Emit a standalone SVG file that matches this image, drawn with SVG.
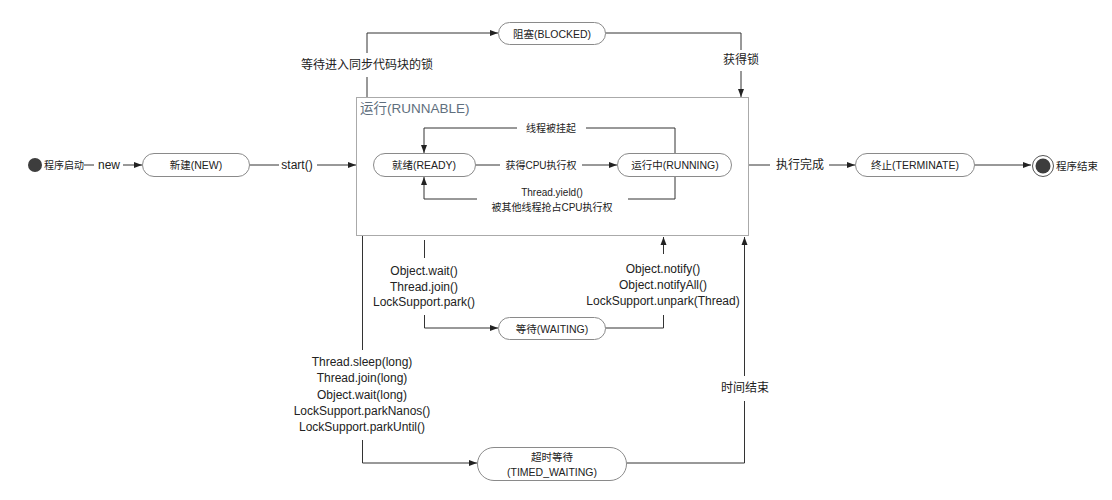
<svg xmlns="http://www.w3.org/2000/svg" width="1112" height="500" viewBox="0 0 1112 500">
<style>
text{font-family:"Liberation Sans","Noto Sans CJK SC",sans-serif;fill:#222;text-anchor:middle;dominant-baseline:central}
.pill{fill:#fff;stroke:#8a8a8a;stroke-width:1}
.nt{font-size:10.5px}
.lb{font-size:12px}
.sm{font-size:10px}
.ln{fill:none;stroke:#333;stroke-width:1}
.ar{marker-end:url(#ah)}
</style>
<defs>
<marker id="ah" markerUnits="userSpaceOnUse" markerWidth="8" markerHeight="8" viewBox="0 0 8 8" refX="8" refY="4" orient="auto">
<path d="M0,1 L8,4 L0,7 Z" fill="#222"/>
</marker>
</defs>
<rect width="1112" height="500" fill="#fff"/>

<g id="runnable">
<rect x="356.5" y="97.5" width="392" height="138" fill="#fff" stroke="#aaa" stroke-width="1"/>
<text x="360" y="108" style="font-size:13.5px;fill:#5f6f7e;text-anchor:start">运行(RUNNABLE)</text>
</g>

<g id="connectors">
<!-- start -> new -->
<line class="ln" x1="84" y1="165" x2="94" y2="165"/>
<text class="lb" x="109" y="165">new</text>
<line class="ln ar" x1="123" y1="165" x2="142" y2="165"/>
<!-- new -> runnable -->
<line class="ln" x1="250" y1="165" x2="279" y2="165"/>
<text class="lb" x="297" y="165">start()</text>
<line class="ln ar" x1="317" y1="165" x2="356" y2="165"/>
<!-- ready -> running -->
<line class="ln" x1="476" y1="165" x2="500" y2="165"/>
<text class="sm" x="541" y="165">获得CPU执行权</text>
<line class="ln ar" x1="582" y1="165" x2="617" y2="165"/>
<!-- running -> ready (suspended) -->
<polyline class="ln" points="675,153 675,128 586,128"/>
<text class="sm" x="551" y="128">线程被挂起</text>
<polyline class="ln ar" points="517,128 424,128 424,153"/>
<!-- running -> ready (yield) -->
<polyline class="ln" points="675,177 675,199 628,199"/>
<text class="sm" x="552" y="192">Thread.yield()</text>
<text class="sm" x="552" y="207">被其他线程抢占CPU执行权</text>
<polyline class="ln ar" points="477,199 424,199 424,177"/>
<!-- runnable -> blocked -->
<polyline class="ln" points="367,97 367,77"/>
<text class="lb" x="367" y="65">等待进入同步代码块的锁</text>
<polyline class="ln ar" points="367,53 367,33 498,33"/>
<!-- blocked -> runnable -->
<polyline class="ln" points="605,33 741,33 741,50"/>
<text class="lb" x="741" y="60">获得锁</text>
<line class="ln ar" x1="741" y1="71" x2="741" y2="97"/>
<!-- runnable -> terminate -->
<line class="ln" x1="749" y1="165" x2="770" y2="165"/>
<text class="lb" x="800" y="165">执行完成</text>
<line class="ln ar" x1="829" y1="165" x2="855" y2="165"/>
<!-- terminate -> end -->
<line class="ln ar" x1="975" y1="165" x2="1031" y2="165"/>
<!-- runnable -> waiting -->
<line class="ln" x1="424.5" y1="240" x2="424.5" y2="258"/>
<text class="lb" x="424" y="271">Object.wait()</text>
<text class="lb" x="424" y="287">Thread.join()</text>
<text class="lb" x="424" y="302">LockSupport.park()</text>
<polyline class="ln ar" points="424.5,315 424.5,328 498,328"/>
<!-- waiting -> runnable -->
<polyline class="ln" points="605,328 663.5,328 663.5,315"/>
<text class="lb" x="663" y="269">Object.notify()</text>
<text class="lb" x="663" y="285">Object.notifyAll()</text>
<text class="lb" x="663" y="301">LockSupport.unpark(Thread)</text>
<line class="ln ar" x1="663.5" y1="254" x2="663.5" y2="237"/>
<!-- runnable -> timed waiting -->
<line class="ln" x1="362.5" y1="236" x2="362.5" y2="350"/>
<text class="lb" x="362" y="362">Thread.sleep(long)</text>
<text class="lb" x="362" y="378">Thread.join(long)</text>
<text class="lb" x="362" y="395">Object.wait(long)</text>
<text class="lb" x="362" y="411">LockSupport.parkNanos()</text>
<text class="lb" x="362" y="427">LockSupport.parkUntil()</text>
<polyline class="ln ar" points="362.5,440 362.5,463 477,463"/>
<!-- timed waiting -> runnable -->
<polyline class="ln" points="627,463 744.5,463 744.5,401"/>
<text class="lb" x="745" y="388">时间结束</text>
<line class="ln ar" x1="744.5" y1="376" x2="744.5" y2="237"/>
</g>

<g id="start">
<circle cx="35" cy="165" r="7" fill="#3d3d3d"/>
<text x="44" y="165" style="font-size:10px;text-anchor:start">程序启动</text>
</g>
<g id="new">
<rect class="pill" x="142.5" y="153.5" width="107" height="23" rx="11.5"/>
<text class="nt" x="196" y="165">新建(NEW)</text>
</g>
<g id="ready">
<rect class="pill" x="373.5" y="153.5" width="102" height="23" rx="11.5"/>
<text class="nt" x="424" y="165">就绪(READY)</text>
</g>
<g id="running">
<rect class="pill" x="617.5" y="153.5" width="114" height="23" rx="11.5"/>
<text class="nt" x="675" y="165">运行中(RUNNING)</text>
</g>
<g id="blocked">
<rect class="pill" x="498.5" y="22.5" width="107" height="22" rx="11"/>
<text class="nt" x="552" y="33.5">阻塞(BLOCKED)</text>
</g>
<g id="terminate">
<rect class="pill" x="855.5" y="153.5" width="119" height="23" rx="11.5"/>
<text class="nt" x="915" y="165">终止(TERMINATE)</text>
</g>
<g id="end">
<circle cx="1043" cy="166" r="10.5" fill="#fff" stroke="#555" stroke-width="1"/>
<circle cx="1043" cy="166" r="7.5" fill="#3d3d3d"/>
<text x="1056" y="166" style="font-size:10.5px;text-anchor:start">程序结束</text>
</g>
<g id="waiting">
<rect class="pill" x="498.5" y="317.5" width="107" height="22" rx="11"/>
<text class="nt" x="552" y="328.5">等待(WAITING)</text>
</g>
<g id="timed_waiting">
<rect class="pill" x="477.5" y="447.5" width="149" height="33" rx="16.5"/>
<text class="nt" x="552" y="457">超时等待</text>
<text class="nt" x="552" y="472">(TIMED_WAITING)</text>
</g>
</svg>
